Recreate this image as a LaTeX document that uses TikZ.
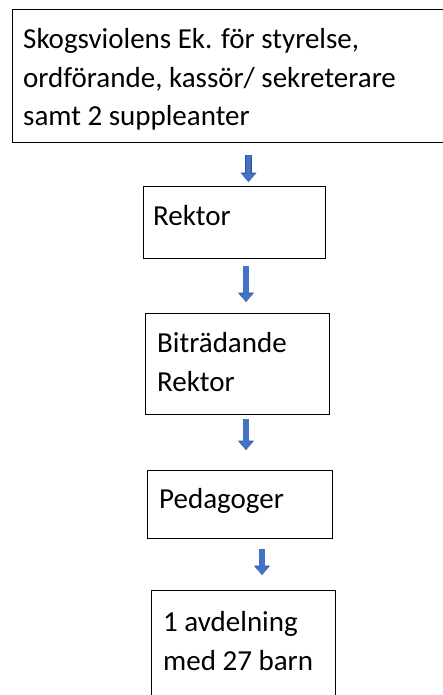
\documentclass[tikz,border=0pt]{standalone}
\usepackage{fontspec}
\setmainfont{Carlito}
\usetikzlibrary{positioning, arrows.meta}

\definecolor{arrowblue}{HTML}{4472C4}
\definecolor{arrowedge}{HTML}{2F528F}

\tikzset{
    orgbox/.style={draw, line width=1.3pt, rectangle, anchor=north west, inner sep=0pt},
    boxtext/.style={anchor=base west, inner sep=0pt, align=left,
        font=\fontsize{29}{38.5}\selectfont},
    blockarrow/.style={line width=5.5pt, draw=arrowblue, -{Triangle[width=14pt,length=8.5pt]},
        preaction={draw=arrowedge, line width=6.7pt, -{Triangle[width=15.5pt,length=9.5pt]}}}
}

\begin{document}
\begin{tikzpicture}[x=1pt, y=1pt]
        \useasboundingbox (0,0) rectangle (443,-695);

        % Boxes, top to bottom
        \node[orgbox, minimum width=470pt, minimum height=133pt] (board) at (12,-9) {};
        \node[orgbox, minimum width=182pt, minimum height=72pt] (rektor) at (143,-186) {};
        \node[orgbox, minimum width=184pt, minimum height=101pt] (bitr) at (145,-313) {};
        \node[orgbox, minimum width=185pt, minimum height=68pt] (pedag) at (147,-470) {};
        \node[orgbox, minimum width=184pt, minimum height=130pt] (avd) at (151,-590) {};

        % Texts (anchored at the baseline of their last line)
        \node[boxtext] (board-txt) at ([shift={(11,-117)}]board.north west)
            {Skogsviolens Ek. för styrelse,\\ordförande, kassör/ sekreterare\\samt 2 suppleanter};
        \node[boxtext] (rektor-txt) at ([shift={(10,-39)}]rektor.north west) {Rektor};
        \node[boxtext] (bitr-txt) at ([shift={(12,-78)}]bitr.north west) {Biträdande\\Rektor};
        \node[boxtext] (pedag-txt) at ([shift={(12,-38)}]pedag.north west) {Pedagoger};
        \node[boxtext] (avd-txt) at ([shift={(12,-80)}]avd.north west) {1 avdelning\\med 27 barn};

        % Columns of the arrows
        \coordinate (col1) at (248.5,0);
        \coordinate (col2) at (246,0);
        \coordinate (col3) at (262,0);

        % Blue block arrows between the boxes
        \draw[blockarrow, shorten <=12pt, shorten >=4pt] (board.south -| col1) -- (rektor.north -| col1);
        \draw[blockarrow, shorten <=7pt, shorten >=11pt] (rektor.south -| col2) -- (bitr.north -| col2);
        \draw[blockarrow, shorten <=4pt, shorten >=20pt] (bitr.south -| col2) -- (pedag.north -| col2);
        \draw[blockarrow, shorten <=10pt, shorten >=15pt] (pedag.south -| col3) -- (avd.north -| col3);
    \end{tikzpicture}
\end{document}
